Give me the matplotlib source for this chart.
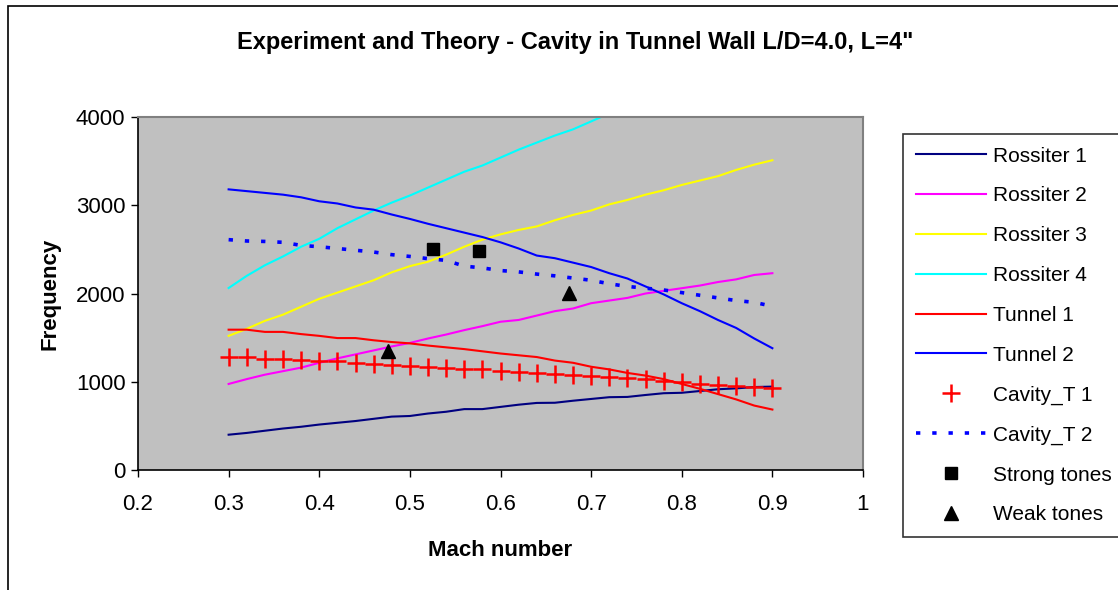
import numpy as np
import matplotlib
matplotlib.use('Agg')
import matplotlib.pyplot as plt
from matplotlib.patches import Rectangle

plt.rcParams['font.family'] = ['Liberation Sans', 'DejaVu Sans']

mach = [0.30, 0.32, 0.34, 0.36, 0.38, 0.40, 0.42, 0.44, 0.46, 0.48, 0.50,
        0.52, 0.54, 0.56, 0.58, 0.60, 0.62, 0.64, 0.66, 0.68, 0.70,
        0.72, 0.74, 0.76, 0.78, 0.80, 0.82, 0.84, 0.86, 0.88, 0.90]

rossiter1 = [400, 420, 445, 470, 490, 515, 535, 555, 580, 605, 612,
             640, 660, 690, 690, 715, 740, 760, 762, 785, 805,
             825, 828, 850, 870, 875, 895, 915, 925, 940, 945]
rossiter2 = [975, 1030, 1080, 1120, 1160, 1215, 1265, 1310, 1355, 1400, 1440,
             1490, 1535, 1585, 1630, 1680, 1700, 1750, 1800, 1830, 1890,
             1920, 1950, 2000, 2030, 2060, 2090, 2130, 2160, 2210, 2230]
rossiter3 = [1520, 1600, 1690, 1760, 1850, 1940, 2010, 2080, 2150, 2240, 2310,
             2360, 2440, 2530, 2610, 2670, 2720, 2760, 2830, 2890, 2940,
             3010, 3060, 3120, 3170, 3230, 3280, 3330, 3400, 3460, 3510]
# Rossiter 4 runs off the top of the chart after M=0.72
mach4 = [0.30, 0.32, 0.34, 0.36, 0.38, 0.40, 0.42, 0.44, 0.46, 0.48, 0.50,
         0.52, 0.54, 0.56, 0.58, 0.60, 0.62, 0.64, 0.66, 0.68, 0.70, 0.72]
rossiter4 = [2062, 2200, 2320, 2420, 2530, 2620, 2740, 2840, 2940, 3030, 3110,
             3200, 3290, 3380, 3450, 3540, 3630, 3710, 3790, 3860, 3950, 4040]
tunnel1 = [1590, 1590, 1565, 1565, 1540, 1520, 1495, 1495, 1470, 1450, 1435,
           1410, 1390, 1370, 1345, 1320, 1300, 1280, 1240, 1215, 1170,
           1140, 1100, 1070, 1030, 975, 920, 860, 800, 730, 685]
tunnel2 = [3180, 3160, 3140, 3120, 3090, 3045, 3020, 2975, 2950, 2895, 2845,
           2790, 2740, 2690, 2640, 2580, 2510, 2430, 2400, 2350, 2300,
           2230, 2170, 2080, 1990, 1890, 1800, 1700, 1610, 1490, 1380]
cavity1 = [1280, 1280, 1260, 1255, 1250, 1235, 1230, 1210, 1205, 1185, 1175,
           1165, 1160, 1145, 1140, 1120, 1115, 1100, 1090, 1080, 1060,
           1050, 1040, 1030, 1010, 995, 980, 960, 955, 940, 930]
cavity2 = [2610, 2595, 2590, 2580, 2545, 2530, 2510, 2490, 2470, 2440, 2420,
           2395, 2375, 2310, 2290, 2260, 2245, 2220, 2200, 2175, 2150,
           2110, 2080, 2060, 2040, 2010, 1980, 1950, 1920, 1900, 1855]

strong_m = [0.526, 0.576]
strong_f = [2505, 2485]
weak_m = [0.476, 0.676]
weak_f = [1350, 2010]

W, H = 1118, 590
fig = plt.figure(figsize=(W / 100, H / 100), dpi=100)
fig.patches.append(Rectangle((8 / W, -0.1), 1.2, 1 - 6 / H + 0.1, transform=fig.transFigure,
                             fill=False, edgecolor='black', linewidth=1.2))

ax = fig.add_axes([138 / W, 1 - 470 / H, (863 - 138) / W, (470 - 117) / H])
ax.set_facecolor('#C0C0C0')

lw = 1.5
ax.plot(mach, rossiter1, color='#000080', lw=lw, label='Rossiter 1')
ax.plot(mach, rossiter2, color='#FF00FF', lw=lw, label='Rossiter 2')
ax.plot(mach, rossiter3, color='#FFFF00', lw=lw, label='Rossiter 3')
ax.plot(mach4, rossiter4, color='#00FFFF', lw=lw, label='Rossiter 4')
ax.plot(mach, tunnel1, color='#FF0000', lw=lw, label='Tunnel 1')
ax.plot(mach, tunnel2, color='#0000FF', lw=lw, label='Tunnel 2')
ax.plot(mach, cavity1, linestyle='none', marker='+', markersize=13, markeredgewidth=1.8,
        color='#FF0000', label='Cavity_T 1')
ax.plot(mach, cavity2, color='#0000FF', lw=2.6, linestyle=(0, (1.2, 3.3)), label='Cavity_T 2')
ax.plot(strong_m, strong_f, linestyle='none', marker='s', markersize=9, color='black',
        label='Strong tones')
ax.plot(weak_m, weak_f, linestyle='none', marker='^', markersize=10, color='black',
        label='Weak tones')

ax.set_xlim(0.2, 1.0)
ax.set_ylim(0, 4000)
ax.set_xticks([0.2, 0.3, 0.4, 0.5, 0.6, 0.7, 0.8, 0.9, 1.0])
ax.set_xticklabels(['0.2', '0.3', '0.4', '0.5', '0.6', '0.7', '0.8', '0.9', '1'])
ax.set_yticks([0, 1000, 2000, 3000, 4000])
ax.tick_params(axis='both', labelsize=16, direction='out', length=5, width=1, color='black')
ax.tick_params(axis='x', pad=12)
ax.tick_params(axis='y', pad=4)
for s in ['top', 'right']:
    ax.spines[s].set_color('#808080')
    ax.spines[s].set_linewidth(1.5)
for s in ['left', 'bottom']:
    ax.spines[s].set_color('black')
    ax.spines[s].set_linewidth(1.2)

ax.set_xlabel('Mach number', fontsize=16, fontweight='bold', labelpad=18)
ax.set_ylabel('Frequency', fontsize=16, fontweight='bold', labelpad=11)
fig.text(575 / W, 1 - 42 / H, 'Experiment and Theory - Cavity in Tunnel Wall L/D=4.0, L=4"',
         ha='center', va='center', fontsize=17, fontweight='bold')

leg = fig.legend(loc='upper left', bbox_to_anchor=(903 / W, 1 - 134 / H), fontsize=15,
                 frameon=True, fancybox=False, edgecolor='black', handlelength=3.4,
                 handletextpad=0.3, labelspacing=1.0, borderpad=0.6, borderaxespad=0)
leg.get_frame().set_linewidth(1.2)

fig.savefig('out.png', dpi=100)
